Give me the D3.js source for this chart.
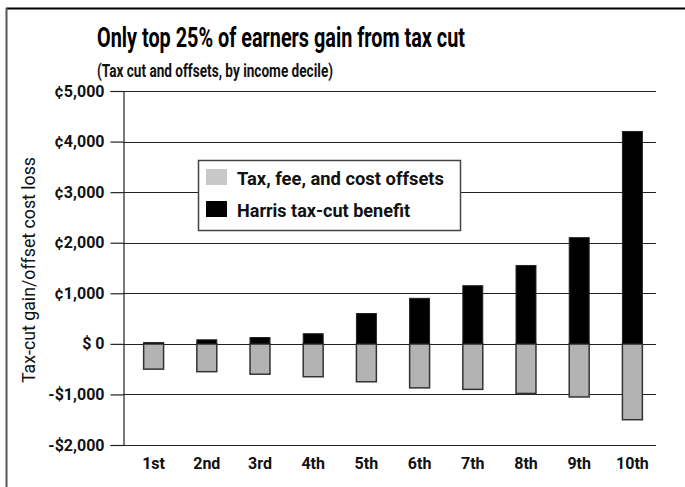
<!DOCTYPE html>
<html>
<head>
<meta charset="utf-8">
<script src="https://cdn.jsdelivr.net/npm/d3@7"></script>
<style>
  html, body { margin: 0; padding: 0; background: #fff; }
  svg { display: block; }
  text { font-family: Roboto, "Liberation Sans", sans-serif; }
</style>
</head>
<body>
<svg id="chart" width="685" height="487"></svg>
<script>
const deciles = ["1st", "2nd", "3rd", "4th", "5th", "6th", "7th", "8th", "9th", "10th"];
const taxCutBenefit = [25, 80, 125, 200, 600, 900, 1150, 1550, 2100, 4200];
const offsets = [-500, -550, -600, -650, -750, -870, -900, -980, -1050, -1500];
const tickValues = [5000, 4000, 3000, 2000, 1000, 0, -1000, -2000];
const tickLabels = ["\u00a25,000", "\u00a24,000", "\u00a23,000", "\u00a22,000", "\u00a21,000", "$ 0", "-$1,000", "-$2,000"];
const seriesNames = ["Tax, fee, and cost offsets", "Harris tax-cut benefit"];
const title = "Only top 25% of earners gain from tax cut";
const subtitle = "(Tax cut and offsets, by income decile)";
const yAxisTitle = "Tax-cut gain/offset cost loss";

(function () {
const svg = d3.select("#chart");
const W = 685, H = 487;
const pLeft = 123, pRight = 656, pTop = 91, pBottom = 445;

// frame
svg.append("line").attr("x1", 6).attr("x2", W).attr("y1", 8.5).attr("y2", 8.5)
  .attr("stroke", "#000").attr("stroke-width", 2);
svg.append("line").attr("x1", 6.5).attr("x2", 6.5).attr("y1", 8).attr("y2", H)
  .attr("stroke", "#555").attr("stroke-width", 2);

// titles
svg.append("text").attr("x", 97).attr("y", 47).text(title)
  .attr("font-size", 28).attr("font-weight", "bold").attr("fill", "#000")
  .attr("textLength", 368).attr("lengthAdjust", "spacingAndGlyphs");
svg.append("text").attr("x", 97).attr("y", 77).text(subtitle)
  .attr("font-size", 18).attr("font-weight", "bold").attr("fill", "#111")
  .attr("textLength", 236).attr("lengthAdjust", "spacingAndGlyphs");

const y = d3.scaleLinear().domain([-2000, 5000]).range([pBottom, pTop]);
const x = d3.scaleBand().domain(deciles).range([127, 659]).paddingInner(0.625).paddingOuter(0.3125);

// gridlines
svg.append("g").selectAll("line").data(tickValues).join("line")
  .attr("x1", pLeft).attr("x2", pRight)
  .attr("y1", d => Math.round(y(d)) + 0.5).attr("y2", d => Math.round(y(d)) + 0.5)
  .attr("stroke", "#222").attr("stroke-width", 1.2);

// y axis
const yAxis = d3.axisLeft(y).tickValues(tickValues).tickSize(13).tickPadding(6)
  .tickFormat((d, i) => tickLabels[i]);
const gy = svg.append("g").attr("transform", `translate(${pLeft + 0.5},0)`).call(yAxis);
gy.select(".domain").attr("stroke", "#222").attr("stroke-width", 1.2);
gy.selectAll(".tick line").attr("stroke", "#222").attr("stroke-width", 1.2);
gy.selectAll(".tick text").attr("font-size", 16).attr("font-weight", "bold").attr("fill", "#111")
  .attr("font-family", "Roboto, sans-serif");

// y title
svg.append("text").attr("transform", "translate(35,270) rotate(-90)")
  .attr("text-anchor", "middle").attr("font-size", 18).attr("fill", "#111").text(yAxisTitle)
  .attr("textLength", 226).attr("lengthAdjust", "spacingAndGlyphs");

// offset bars (gray)
svg.append("g").selectAll("rect").data(deciles).join("rect")
  .attr("x", d => x(d)).attr("width", x.bandwidth())
  .attr("y", y(0)).attr("height", (d, i) => y(offsets[i]) - y(0))
  .attr("fill", "#b3b3b3").attr("stroke", "#333").attr("stroke-width", 1.5);

// benefit bars (black)
svg.append("g").selectAll("rect").data(deciles).join("rect")
  .attr("x", d => x(d)).attr("width", x.bandwidth())
  .attr("y", (d, i) => y(taxCutBenefit[i])).attr("height", (d, i) => y(0) - y(taxCutBenefit[i]))
  .attr("fill", "#000").attr("stroke", "#222").attr("stroke-width", 1);

// x labels
const xAxis = d3.axisBottom(x).tickSize(0).tickPadding(13);
const gx = svg.append("g").attr("transform", `translate(0,${pBottom})`).call(xAxis);
gx.select(".domain").remove();
gx.selectAll(".tick text").attr("font-size", 16).attr("font-weight", "bold").attr("fill", "#111")
  .attr("font-family", "Roboto, sans-serif");

// legend
const lg = svg.append("g");
lg.append("rect").attr("x", 198.5).attr("y", 160.5).attr("width", 262).attr("height", 70)
  .attr("fill", "#fff").attr("stroke", "#444").attr("stroke-width", 1.5);
const swatchColors = ["#c8c8c8", "#000"];
const legendWidths = [207, 173];
seriesNames.forEach((name, i) => {
  lg.append("rect").attr("x", 206).attr("y", 169 + i * 32).attr("width", 21).attr("height", 16)
    .attr("fill", swatchColors[i]);
  lg.append("text").attr("x", 237).attr("y", 185 + i * 32).attr("font-size", 19)
    .attr("font-weight", "bold").attr("fill", "#111").text(name)
    .attr("textLength", legendWidths[i]).attr("lengthAdjust", "spacingAndGlyphs");
});
})();
</script>
</body>
</html>
